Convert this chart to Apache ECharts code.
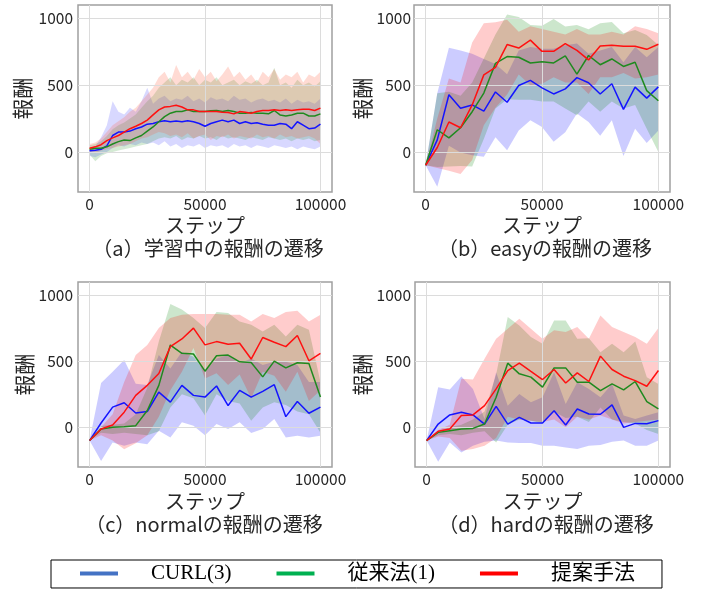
<!DOCTYPE html>
<html><head><meta charset="utf-8">
<script src="https://cdn.jsdelivr.net/npm/echarts@6/dist/echarts.min.js"></script>
<style>html,body{margin:0;padding:0;background:#fff}#c{width:702px;height:590px}</style>
</head><body><div id="c"></div>
<script>
// ---------- data ----------
const stepsA = [0,2500,5000,7500,10000,12500,15000,17500,20000,22500,25000,27500,30000,32500,35000,37500,40000,42500,45000,47500,50000,52500,55000,57500,60000,62500,65000,67500,70000,72500,75000,77500,80000,82500,85000,87500,90000,92500,95000,97500,100000];
const stepsB = [0,5000,10000,15000,20000,25000,30000,35000,40000,45000,50000,55000,60000,65000,70000,75000,80000,85000,90000,95000,100000];

const seriesNames = ['CURL(3)', '従来法(1)', '提案手法'];
const captions = ['（a）学習中の報酬の遷移', '（b）easyの報酬の遷移', '（c）normalの報酬の遷移', '（d）hardの報酬の遷移'];
const xTickLabels = [0, 50000, 100000];
const yTickLabels = [0, 500, 1000];

// (a) training: smoothed means
const aBlue  = [8,13,20,46,123,149,149,156,174,187,208,213,226,233,226,231,226,233,226,213,192,213,226,238,226,238,213,226,213,218,208,200,200,213,208,174,226,200,174,179,208];
const aGreen = [20,28,28,38,59,77,90,85,105,123,156,187,226,264,290,302,302,315,302,302,302,308,310,302,310,302,290,290,295,290,290,285,310,277,269,277,290,290,269,269,285];
const aRed   = [28,38,54,85,105,123,149,174,192,213,238,277,315,336,341,349,336,315,315,302,302,302,302,297,295,285,302,297,290,302,310,310,315,310,315,310,315,320,320,310,328];
// (a) training: raw-trace envelopes
const aRedHi   = [60,70,100,150,200,230,260,300,330,380,430,480,560,600,520,650,560,600,540,620,560,600,530,580,640,560,600,540,580,520,600,560,620,540,580,560,600,520,580,560,600];
const aRedLo   = [0,-10,10,20,30,40,50,60,80,100,110,130,150,140,120,130,110,140,100,120,130,90,120,110,130,100,120,110,100,130,110,120,100,130,110,120,100,110,120,100,60];
const aGreenHi = [50,60,80,120,170,200,220,250,280,330,380,420,480,520,560,500,540,520,560,500,540,520,560,500,520,540,500,530,510,540,500,520,630,500,520,480,540,500,520,490,530];
const aGreenLo = [-20,-70,-30,-10,0,10,20,30,40,50,60,80,100,110,100,120,90,110,100,120,100,110,90,120,100,110,100,90,110,100,90,110,100,90,100,80,100,90,100,80,90];
const aBlueHi  = [30,40,110,200,380,300,280,330,300,380,480,360,400,420,380,400,390,420,380,400,370,410,390,400,380,420,390,400,370,390,400,380,390,370,400,360,390,370,380,360,400];
const aBlueLo  = [-30,-40,-20,0,30,50,40,60,50,70,60,70,50,80,40,60,30,50,40,60,30,50,40,50,30,60,40,50,30,50,40,30,50,40,30,40,20,40,30,20,40];

// (b) easy
const bBlue    = [-100,90,428,327,352,306,449,372,497,536,480,434,472,556,518,434,510,319,485,403,487];
const bBlueHi  = [-100,440,780,760,735,696,658,582,760,785,773,773,798,811,735,760,785,671,785,709,785];
const bBlueLo  = [-100,-260,46,-5,-25,-36,110,13,160,237,186,76,148,288,224,122,237,-30,173,66,160];
const bGreen   = [-100,166,105,181,301,441,663,714,709,666,676,666,719,582,722,653,696,640,671,459,383];
const bGreenHi = [-100,440,450,420,520,700,880,1028,1010,951,944,995,939,951,918,964,972,888,913,875,800];
const bGreenLo = [-100,-112,-110,-105,-110,97,326,395,390,390,377,377,326,275,377,301,377,326,352,173,0];
const bRed     = [-100,33,224,181,352,577,633,804,778,837,753,753,811,760,689,793,798,791,791,768,806];
const bRedHi   = [-100,250,550,520,820,964,970,990,900,940,920,900,880,920,880,880,900,880,940,920,888];
const bRedLo   = [-100,-120,-140,-166,-60,200,330,430,580,500,510,560,520,520,434,560,560,590,550,560,580];

// (c) normal
const cBlue    = [-100,33,153,186,109,120,267,191,318,242,229,313,165,280,229,272,323,81,196,107,153];
const cBlueHi  = [-100,335,420,510,330,320,547,445,573,534,420,522,547,484,522,471,496,496,471,344,344];
const cBlueLo  = [-100,-255,-115,-140,-115,-127,-25,-76,38,13,-59,25,-13,38,-43,-13,64,-76,-64,-76,-64];
const cGreen   = [-100,-13,0,5,13,127,318,623,560,555,425,542,547,496,491,382,501,450,489,484,229];
const cGreenHi = [-100,10,20,30,100,300,650,934,891,827,751,873,865,802,776,725,776,687,776,738,344];
const cGreenLo = [-100,-40,-50,-40,-50,-60,-30,150,250,220,90,250,200,180,50,150,190,170,120,100,-40];
const cRed     = [-100,-13,18,115,242,318,407,611,669,751,624,649,629,636,517,680,644,611,695,504,560];
const cRedHi   = [-100,0,100,343,547,624,751,827,853,858,858,858,853,853,802,858,827,873,883,802,853];
const cRedLo   = [-100,-60,-100,-165,-120,-60,80,280,420,600,370,410,320,400,220,420,390,270,420,200,280];

// (d) hard
const dBlue    = [-100,25,94,114,94,25,159,25,76,33,33,126,18,139,101,99,170,0,30,28,51];
const dBlueHi  = [-100,304,286,385,291,63,417,164,253,190,228,417,177,342,291,228,329,89,63,89,114];
const dBlueLo  = [-100,-260,-114,-190,-139,-109,-100,-114,-119,-119,-139,-139,-152,-164,-139,-134,-109,-100,-139,-139,-100];
const dGreen   = [-100,-38,-25,-13,-8,25,228,486,405,380,304,450,450,342,342,278,329,283,347,195,139];
const dGreenHi = [-100,-30,0,20,60,120,400,835,771,683,632,809,809,670,675,569,632,569,650,379,329];
const dGreenLo = [-100,-60,-50,-60,-40,-30,-114,20,60,50,30,120,70,80,40,150,60,40,30,-20,-50];
const dRed     = [-100,-30,-13,89,94,164,291,430,486,423,362,438,336,412,347,539,438,387,354,311,430];
const dRedHi   = [-100,-20,20,367,362,519,670,746,822,746,670,734,721,759,670,847,759,721,683,632,751];
const dRedLo   = [-100,-70,-80,-177,-164,-139,-80,80,60,50,40,60,0,80,60,90,60,30,40,50,60];

// ---------- styling ----------
const SANS = '"Noto Sans CJK JP", "Noto Sans", sans-serif';
const SERIF = '"Liberation Serif", "Noto Sans CJK JP", serif';
const lineColors = ['#1414ff', '#1f8a1f', '#ff1010'];
const legendColors = ['#4472c4', '#00b050', '#ff0000'];
const bandColors = ['rgba(0,0,255,0.2)', 'rgba(0,128,0,0.2)', 'rgba(255,0,0,0.2)'];
const rawColors = ['rgba(60,60,255,0.2)', 'rgba(40,150,40,0.2)', 'rgba(255,90,60,0.22)'];

const grids = [
  {left: 78, top: 5, width: 254, height: 187},
  {left: 414, top: 5, width: 256, height: 187},
  {left: 78, top: 282, width: 254, height: 185},
  {left: 415, top: 282, width: 255, height: 185}
];
const yNameGaps = [45, 40, 43, 42];
const yLabelMargins = [5, 3, 5, 4];
const xNameGaps = [23, 23, 24, 24];
const captionPos = [[208, 248], [545, 248], [204, 524], [546, 524]];

const panels = [
  {xs: stepsA, mean: [aBlue, aGreen, aRed], hi: [aBlueHi, aGreenHi, aRedHi], lo: [aBlueLo, aGreenLo, aRedLo], colors: rawColors},
  {xs: stepsB, mean: [bBlue, bGreen, bRed], hi: [bBlueHi, bGreenHi, bRedHi], lo: [bBlueLo, bGreenLo, bRedLo], colors: bandColors},
  {xs: stepsB, mean: [cBlue, cGreen, cRed], hi: [cBlueHi, cGreenHi, cRedHi], lo: [cBlueLo, cGreenLo, cRedLo], colors: bandColors},
  {xs: stepsB, mean: [dBlue, dGreen, dRed], hi: [dBlueHi, dGreenHi, dRedHi], lo: [dBlueLo, dGreenLo, dRedLo], colors: bandColors}
];

function bandSeries(gi, xs, lo, hi, color) {
  const data = xs.map((x, i) => [x, lo[i], hi[i]]);
  return {
    type: 'custom', xAxisIndex: gi, yAxisIndex: gi, silent: true, z: 2,
    data: data, encode: {x: 0, y: [1, 2]},
    renderItem: function (params, api) {
      if (params.dataIndex !== 0) return null;
      const top = [], bot = [];
      for (let i = 0; i < data.length; i++) {
        top.push(api.coord([data[i][0], data[i][2]]));
        bot.push(api.coord([data[i][0], data[i][1]]));
      }
      return {type: 'polygon', shape: {points: top.concat(bot.reverse())}, style: {fill: color, stroke: null}};
    }
  };
}

const xAxes = [], yAxes = [], series = [];
grids.forEach((g, gi) => {
  xAxes.push({
    gridIndex: gi, type: 'value', min: -5000, max: 105000, interval: 5000,
    axisLine: {show: false}, axisTick: {show: false}, splitLine: {show: false},
    axisLabel: {formatter: v => (xTickLabels.indexOf(v) >= 0 ? String(v) : ''), fontSize: 15.5, color: '#262626', fontFamily: SANS, margin: 4},
    name: 'ステップ', nameLocation: 'middle', nameGap: xNameGaps[gi],
    nameTextStyle: {fontSize: 20, color: '#262626', fontFamily: SANS}
  });
  yAxes.push({
    gridIndex: gi, type: 'value', min: -300, max: 1100, interval: 100,
    axisLine: {show: false}, axisTick: {show: false}, splitLine: {show: false},
    axisLabel: {formatter: v => (yTickLabels.indexOf(v) >= 0 ? String(v) : ''), fontSize: 15.5, color: '#262626', fontFamily: SANS, margin: yLabelMargins[gi]},
    name: '報酬', nameLocation: 'middle', nameGap: yNameGaps[gi],
    nameTextStyle: {fontSize: 21, color: '#262626', fontFamily: SANS}
  });
  // grid lines at tick values
  series.push({
    type: 'line', xAxisIndex: gi, yAxisIndex: gi, data: [], z: 1, silent: true,
    markLine: {
      silent: true, symbol: ['none', 'none'], label: {show: false},
      lineStyle: {color: '#dcdcdc', width: 1, type: 'solid'},
      data: xTickLabels.map(v => ({xAxis: v})).concat(yTickLabels.map(v => ({yAxis: v})))
    }
  });
  const p = panels[gi];
  for (let k = 0; k < 3; k++) series.push(bandSeries(gi, p.xs, p.lo[k], p.hi[k], p.colors[k]));
  for (let k = 0; k < 3; k++) {
    series.push({
      type: 'line', name: seriesNames[k], xAxisIndex: gi, yAxisIndex: gi, z: 5,
      data: p.xs.map((x, i) => [x, p.mean[k][i]]),
      showSymbol: false, symbol: 'none', smooth: false,
      lineStyle: {color: lineColors[k], width: 1.5}, itemStyle: {color: lineColors[k]}
    });
  }
});

const option = {
  animation: false,
  backgroundColor: '#fff',
  grid: grids.map(g => Object.assign({show: true, borderColor: '#a0a0a0', borderWidth: 1.5, backgroundColor: '#fff', containLabel: false}, g)),
  xAxis: xAxes, yAxis: yAxes, series: series,
  legend: {
    data: seriesNames.map((n, k) => ({name: n, itemStyle: {color: legendColors[k]}})),
    left: 51, top: 560, orient: 'horizontal',
    icon: 'rect', itemWidth: 38, itemHeight: 4, itemGap: 45,
    borderColor: '#000', borderWidth: 1, borderRadius: 0,
    padding: [3, 27, 4, 29], selectedMode: false,
    textStyle: {fontFamily: SERIF, fontSize: 21, color: '#000', padding: [0, 0, 0, 28]}
  },
  graphic: captions.map((t, i) => ({
    type: 'text', x: captionPos[i][0], y: captionPos[i][1], silent: true,
    style: {text: t, fill: '#262626', font: '20px ' + SANS, textAlign: 'center', textVerticalAlign: 'middle'}
  }))
};

const chart = echarts.init(document.getElementById('c'), null, {renderer: 'canvas'});
chart.setOption(option);
</script></body></html>
